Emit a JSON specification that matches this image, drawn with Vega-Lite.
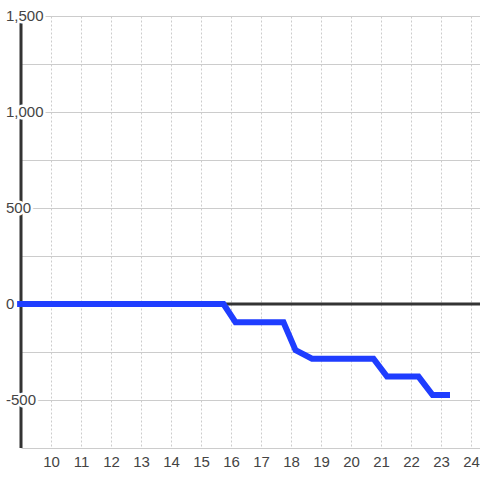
{
  "$schema": "https://vega.github.io/schema/vega-lite/v6.json",
  "width": 459,
  "height": 432,
  "autosize": {"type": "none"},
  "padding": {"left": 21, "top": 16, "right": 0, "bottom": 32},
  "background": "#ffffff",
  "config": {
    "view": {"stroke": null},
    "font": "Liberation Sans",
    "axisX": {"domain": false, "ticks": false, "grid": true, "gridColor": "#cccccc", "gridDash": [2, 2], "gridWidth": 1, "labelFont": "Liberation Sans", "labelFontSize": 15, "labelColor": "#444444", "labelPadding": 6, "labelOverlap": false, "title": null},
    "axisY": {"domain": false, "ticks": false, "labels": false, "grid": true, "gridColor": "#cccccc", "gridWidth": 1, "title": null}
  },
  "datasets": {
    "series": [
      {"x": 8.87, "y": 0},
      {"x": 15.75, "y": 0},
      {"x": 16.15, "y": -95},
      {"x": 17.75, "y": -95},
      {"x": 18.15, "y": -240},
      {"x": 18.7, "y": -285},
      {"x": 20.75, "y": -285},
      {"x": 21.2, "y": -378},
      {"x": 22.25, "y": -378},
      {"x": 22.72, "y": -474},
      {"x": 23.3, "y": -474}
    ],
    "ylabels": [
      {"v": 1500, "t": "1,500"},
      {"v": 1000, "t": "1,000"},
      {"v": 500, "t": "500"},
      {"v": 0, "t": "0"},
      {"v": -500, "t": "-500"}
    ]
  },
  "layer": [
    {
      "data": {"values": [{}]},
      "mark": {"type": "rule", "color": "#333333", "strokeWidth": 3},
      "encoding": {
        "x": {"datum": 9, "type": "quantitative", "scale": {"domain": [9, 24.3], "nice": false, "zero": false}, "axis": {"values": [10, 11, 12, 13, 14, 15, 16, 17, 18, 19, 20, 21, 22, 23, 24], "format": "d", "title": null}},
        "y": {"datum": -750, "type": "quantitative", "scale": {"domain": [-750, 1500], "nice": false, "zero": false}, "axis": {"values": [-750, -500, -250, 0, 250, 500, 750, 1000, 1250, 1500], "title": null}},
        "y2": {"datum": 1500}
      }
    },
    {
      "data": {"values": [{}]},
      "mark": {"type": "rule", "color": "#333333", "strokeWidth": 3},
      "encoding": {
        "y": {"datum": 0, "type": "quantitative", "axis": {"values": [-750, -500, -250, 0, 250, 500, 750, 1000, 1250, 1500], "title": null}},
        "x": {"datum": 9, "type": "quantitative", "axis": {"values": [10, 11, 12, 13, 14, 15, 16, 17, 18, 19, 20, 21, 22, 23, 24], "format": "d", "title": null}},
        "x2": {"datum": 24.3}
      }
    },
    {
      "data": {"name": "series"},
      "mark": {"type": "line", "color": "#1f3dff", "strokeWidth": 6, "strokeJoin": "miter"},
      "encoding": {
        "x": {"field": "x", "type": "quantitative", "axis": {"values": [10, 11, 12, 13, 14, 15, 16, 17, 18, 19, 20, 21, 22, 23, 24], "format": "d", "title": null}},
        "y": {"field": "y", "type": "quantitative", "axis": {"values": [-750, -500, -250, 0, 250, 500, 750, 1000, 1250, 1500], "title": null}}
      }
    },
    {
      "data": {"name": "ylabels"},
      "mark": {"type": "text", "align": "left", "baseline": "middle", "dx": -15, "fontSize": 15, "font": "Liberation Sans", "fill": "#ffffff", "stroke": "#ffffff", "strokeWidth": 5, "strokeJoin": "round"},
      "encoding": {
        "x": {"datum": 9, "type": "quantitative", "axis": {"values": [10, 11, 12, 13, 14, 15, 16, 17, 18, 19, 20, 21, 22, 23, 24], "format": "d", "title": null}},
        "y": {"field": "v", "type": "quantitative", "axis": {"values": [-750, -500, -250, 0, 250, 500, 750, 1000, 1250, 1500], "title": null}},
        "text": {"field": "t"}
      }
    },
    {
      "data": {"name": "ylabels"},
      "mark": {"type": "text", "align": "left", "baseline": "middle", "dx": -15, "fontSize": 15, "font": "Liberation Sans", "fill": "#444444"},
      "encoding": {
        "x": {"datum": 9, "type": "quantitative", "axis": {"values": [10, 11, 12, 13, 14, 15, 16, 17, 18, 19, 20, 21, 22, 23, 24], "format": "d", "title": null}},
        "y": {"field": "v", "type": "quantitative", "axis": {"values": [-750, -500, -250, 0, 250, 500, 750, 1000, 1250, 1500], "title": null}},
        "text": {"field": "t"}
      }
    }
  ]
}
